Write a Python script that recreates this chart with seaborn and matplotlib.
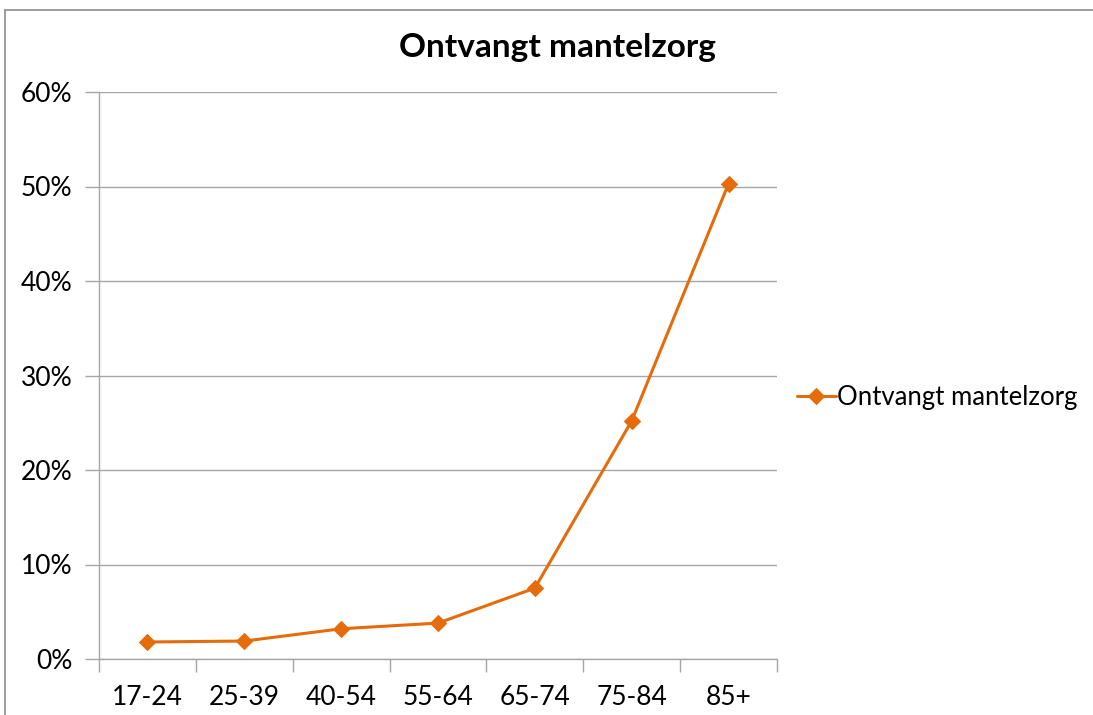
import matplotlib
matplotlib.use("Agg")
import matplotlib.pyplot as plt
import seaborn as sns
import pandas as pd
from matplotlib.ticker import FuncFormatter, FixedLocator
from matplotlib.lines import Line2D

categories = ["17-24", "25-39", "40-54", "55-64", "65-74", "75-84", "85+"]
values = [1.8, 1.9, 3.2, 3.8, 7.5, 25.2, 50.3]
series_name = "Ontvangt mantelzorg"
title = "Ontvangt mantelzorg"

sns.set_theme(style="white")
plt.rcParams['font.family'] = ['Lato', 'DejaVu Sans']
plt.rcParams['text.color'] = 'black'

W, H = 1093, 715
fig = plt.figure(figsize=(W / 100, H / 100), dpi=100)
ax = fig.add_axes([99 / W, 1 - 659 / H, (777 - 99) / W, (659 - 92) / H])

df = pd.DataFrame({"cat": categories, "val": values})
color = "#E46C0A"
sns.lineplot(data=df, x="cat", y="val", ax=ax, color=color, linewidth=2.2,
             marker="D", markersize=8, markeredgecolor=color, label=series_name, sort=False)

ax.set_xlim(-0.5, len(categories) - 0.5)
ax.set_ylim(0, 60)
ax.set_yticks(range(0, 61, 10))
ax.yaxis.set_major_formatter(FuncFormatter(lambda v, p: f"{int(v)}%"))
ax.yaxis.grid(True, color="#A6A6A6", linewidth=1)
ax.xaxis.grid(False)
ax.set_xlabel("")
ax.set_ylabel("")

for s in ["top", "right"]:
    ax.spines[s].set_visible(False)
ax.spines["left"].set_color("#A6A6A6")
ax.spines["bottom"].set_color("#A6A6A6")
ax.spines["left"].set_linewidth(1)
ax.spines["bottom"].set_linewidth(1)

ax.tick_params(axis="y", which="major", length=10, color="#A6A6A6", width=1,
               labelsize=19, pad=9, left=True, labelcolor="black")
ax.tick_params(axis="x", which="major", length=0, labelsize=19, pad=19, labelcolor="black")
ax.xaxis.set_minor_locator(FixedLocator([i - 0.5 for i in range(len(categories) + 1)]))
ax.tick_params(axis="x", which="minor", length=9, color="#A6A6A6", width=1, bottom=True)

leg = ax.legend(loc="center left", bbox_to_anchor=(797 / W, 1 - 397 / H),
                bbox_transform=fig.transFigure, frameon=False, fontsize=18.5,
                handlelength=1.5, handletextpad=0.05, borderaxespad=0, borderpad=0)
for t in leg.get_texts():
    t.set_color("black")

fig.text(557 / W, 1 - 47 / H, title, ha="center", va="center", fontsize=24,
         fontweight="bold", color="black")

# chart frame (top and left edges visible)
fig.add_artist(Line2D([4.5 / W, 4.5 / W], [0, 1 - 9.5 / H], transform=fig.transFigure,
                      color="#8C8C8C", linewidth=1.2))
fig.add_artist(Line2D([4.5 / W, 1], [1 - 9.5 / H, 1 - 9.5 / H], transform=fig.transFigure,
                      color="#8C8C8C", linewidth=1.2))

fig.savefig("out.png", dpi=100)
